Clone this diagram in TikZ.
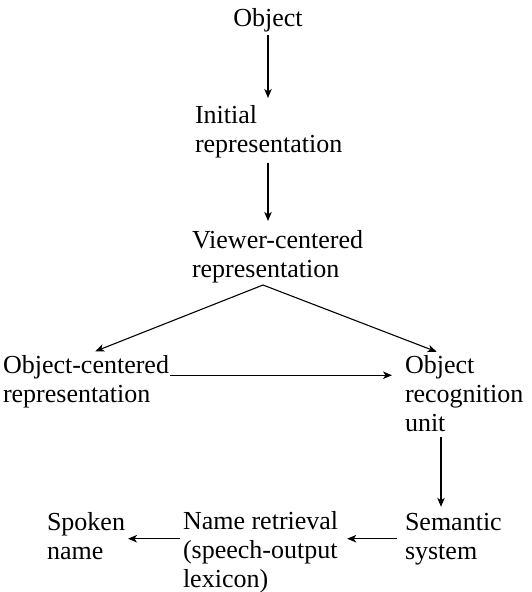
\documentclass[tikz,border=0pt]{standalone}
\usepackage{fontspec}
\setmainfont{Liberation Serif}
\usetikzlibrary{arrows.meta}
\begin{document}
\begin{tikzpicture}[x=1pt,y=-1pt,
  label/.style={inner sep=0pt,outer sep=0pt,align=left,anchor=base west,
                font=\fontsize{26}{29}\selectfont},
  arr/.style={line width=1.1pt,-{Stealth[length=9pt,width=7.5pt,inset=2.5pt]}}]
\useasboundingbox (0,0) rectangle (532,592);

% processing stages (positions give the baseline of the last line)
\node[label,anchor=base] (obj)  at (268,26)  {Object};
\node[label] (init)  at (195,152) {Initial\\representation};
\node[label] (view)  at (192,277) {Viewer-centered\\representation};
\node[label] (ocr)   at (3,402)   {Object-centered\\representation};
\node[label] (orec)  at (405,431) {Object\\recognition\\unit};
\node[label] (sem)   at (405,559) {Semantic\\system};
\node[label] (name)  at (183,587) {Name retrieval\\(speech-output\\lexicon)};
\node[label] (spoken) at (47,559) {Spoken\\name};

% branch point below the viewer-centered stage
\coordinate (fork) at (263,285);

% connections
\draw[arr,shorten <=3.5pt,shorten >=7pt] (obj.south) -- (obj.south |- init.north);
\draw[arr,shorten <=5pt,shorten >=9pt] (obj.south |- init.south) -- (obj.south |- view.north);
\draw[arr,shorten >=10pt] (fork) -- (ocr.north);
\draw[arr,shorten >=9pt] (fork) -- ([xshift=40pt]orec.north west);
\draw[arr,shorten <=1pt,shorten >=13pt] ([yshift=6pt]ocr.east) -- ([yshift=6pt]ocr.east -| orec.west);
\draw[arr,shorten <=6pt,shorten >=6pt] ([xshift=36pt]orec.south west) -- ([xshift=36pt]orec.south west |- sem.north);
\draw[arr,shorten <=8pt,shorten >=9pt] (sem.west) -- (sem.west -| name.east);
\draw[arr,shorten <=3pt,shorten >=3pt] (sem.west -| name.west) -- (sem.west -| spoken.east);
\end{tikzpicture}
\end{document}
